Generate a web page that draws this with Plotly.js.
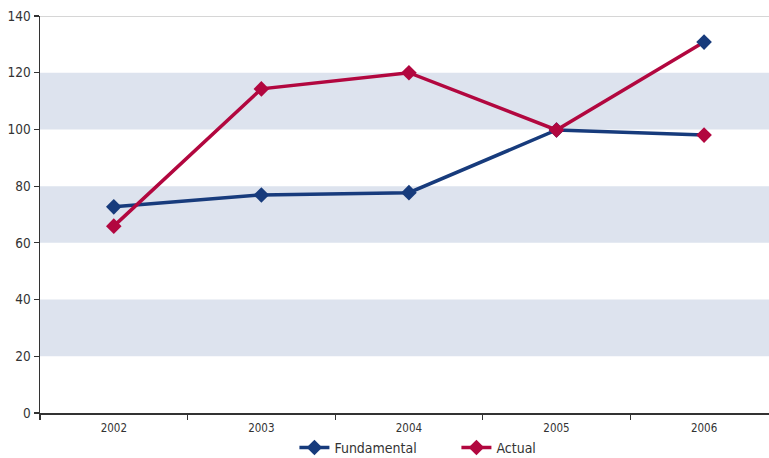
<!DOCTYPE html>
<html>
<head>
<meta charset="utf-8">
<script src="https://cdn.plot.ly/plotly-3.0.1.min.js"></script>
<style>
  html, body { margin: 0; padding: 0; background: #fff; }
  #chart { width: 769px; height: 458px; }
</style>
</head>
<body>
<div id="chart"></div>
<script>
// Years on the category axis
const years = ['2002', '2003', '2004', '2005', '2006'];

// Series values
const fundamental = [72.7, 76.9, 77.7, 99.8, 98.0];
const actual = [65.9, 114.3, 120.0, 99.8, 130.8];

// Marker colours per point (the last points carry the other series' colour)
const BLUE = '#173b7c';
const RED = '#b2073f';
const fundamentalMarkerColors = [BLUE, BLUE, BLUE, BLUE, RED];
const actualMarkerColors = [RED, RED, RED, RED, BLUE];

// Shaded horizontal bands [from, to]
const bands = [[20, 40], [60, 80], [100, 120]];

const FONT = '"DejaVu Sans Condensed", "Liberation Sans Narrow", Arial, sans-serif';

const traces = [
  {
    x: years, y: fundamental, name: 'Fundamental', type: 'scatter', mode: 'lines+markers',
    line: { color: BLUE, width: 3.5 },
    marker: { symbol: 'diamond', size: 12, color: fundamentalMarkerColors }
  },
  {
    x: years, y: actual, name: 'Actual', type: 'scatter', mode: 'lines+markers',
    line: { color: RED, width: 3.5 },
    marker: { symbol: 'diamond', size: 12, color: actualMarkerColors }
  }
];

const shapes = bands.map(b => ({
  type: 'rect', xref: 'paper', yref: 'y', x0: 0, x1: 1, y0: b[0], y1: b[1],
  fillcolor: '#dde3ee', line: { width: 0 }, layer: 'below'
}));
shapes.push({
  type: 'line', xref: 'paper', yref: 'y', x0: 0, x1: 1, y0: 140, y1: 140,
  line: { color: '#c8c8c8', width: 1.5 }, layer: 'below'
});

const layout = {
  width: 769, height: 458,
  margin: { l: 40, r: 0, t: 16, b: 45, autoexpand: false },
  paper_bgcolor: '#fff', plot_bgcolor: '#fff',
  font: { family: FONT, color: '#333', size: 13 },
  showlegend: true,
  legend: {
    orientation: 'h', x: 0.349, xanchor: 'left', y: -0.088, yanchor: 'middle',
    font: { family: FONT, size: 14, color: '#333' },
    entrywidth: 117, entrywidthmode: 'pixels',
    itemwidth: 30, tracegroupgap: 0, bgcolor: 'rgba(0,0,0,0)'
  },
  xaxis: {
    type: 'category', range: [-0.5, 4.44],
    tickson: 'boundaries', ticks: 'outside', ticklen: 5, tickcolor: '#333', tickwidth: 1.2,
    showline: true, linecolor: '#333', linewidth: 1.5,
    showgrid: false, zeroline: false, ticklabelstandoff: 4,
    tickfont: { family: FONT, size: 11.5, color: '#333' }
  },
  yaxis: {
    range: [0, 140], tickmode: 'array', tickvals: [0, 20, 40, 60, 80, 100, 120, 140],
    ticks: 'outside', ticklen: 5, tickcolor: '#333', tickwidth: 1.2,
    showline: true, linecolor: '#333', linewidth: 1.5,
    showgrid: false, zeroline: false,
    tickfont: { family: FONT, size: 13.5, color: '#333' }
  },
  shapes: shapes
};

Plotly.newPlot('chart', traces, layout, { displayModeBar: false, staticPlot: true });
</script>
</body>
</html>
